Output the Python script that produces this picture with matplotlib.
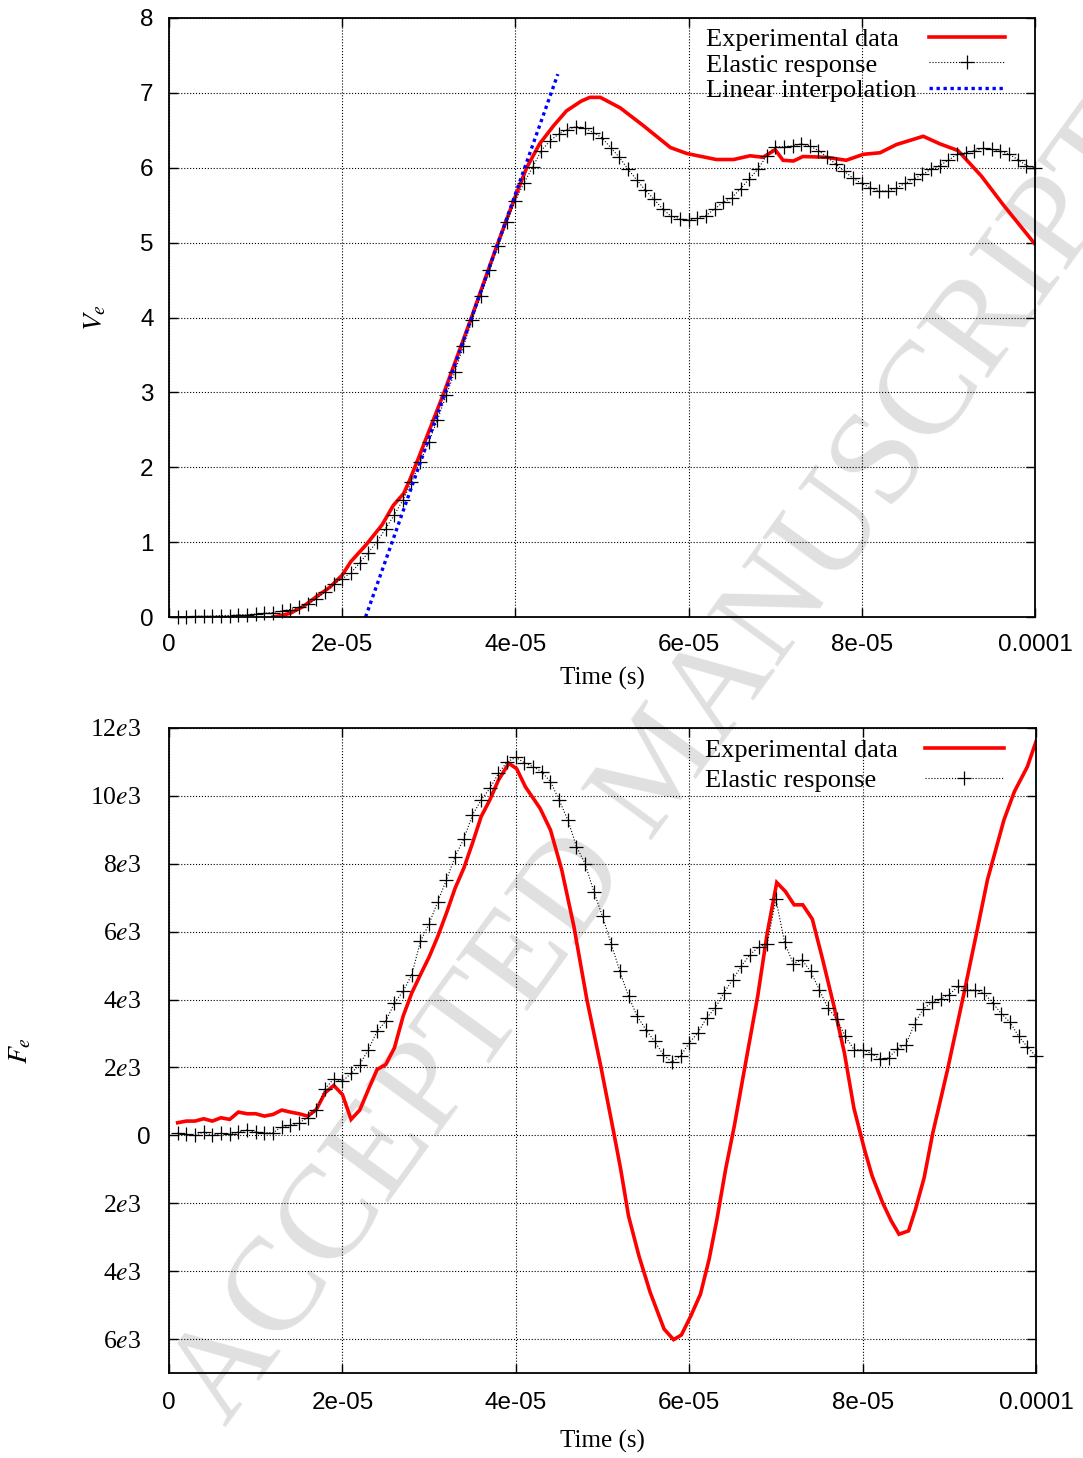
import matplotlib
matplotlib.use('Agg')
import matplotlib.pyplot as plt
from matplotlib.lines import Line2D

plt.rcParams['font.family'] = ['Liberation Sans', 'DejaVu Sans']
plt.rcParams['mathtext.fontset'] = 'stix'

# ---------------- data ----------------
# time samples of the elastic response (microseconds)
t_elastic_us = list(range(1, 101))

V_elastic = [0.00, 0.00, 0.01, 0.01, 0.01, 0.02, 0.02, 0.03, 0.03, 0.04,
             0.05, 0.06, 0.08, 0.10, 0.13, 0.17, 0.24, 0.34, 0.44, 0.51,
             0.59, 0.72, 0.86, 1.00, 1.18, 1.36, 1.56, 1.80, 2.07, 2.34,
             2.63, 2.96, 3.27, 3.62, 3.96, 4.29, 4.63, 4.96, 5.27, 5.56,
             5.80, 6.01, 6.23, 6.36, 6.45, 6.51, 6.55, 6.53, 6.47, 6.40,
             6.27, 6.14, 5.98, 5.84, 5.70, 5.58, 5.45, 5.35, 5.32, 5.30,
             5.33, 5.36, 5.45, 5.54, 5.60, 5.72, 5.85, 5.98, 6.16, 6.28,
             6.28, 6.29, 6.32, 6.29, 6.23, 6.14, 6.05, 5.95, 5.86, 5.79,
             5.73, 5.69, 5.69, 5.73, 5.79, 5.85, 5.91, 5.98, 6.03, 6.10,
             6.18, 6.20, 6.23, 6.26, 6.25, 6.22, 6.18, 6.11, 6.03, 6.00]

t_exp_v_us = [12, 13, 14, 15.5, 17, 18.6, 20, 21, 22.8, 24.6, 25.9, 27.1, 27.8,
              28.8, 31.7, 34.8, 37.8, 39.8, 41.3, 42.8, 44.4, 45.9, 47.6, 48.6,
              49.8, 52.1, 54.8, 57.9, 59.8, 63.2, 65.2, 67.1, 68.6, 70.0, 70.9,
              72.1, 73.2, 75.9, 78.2, 80.2, 82.1, 84.0, 87.1, 89.0, 91.1, 93.8,
              96.3, 100]
V_exp = [0.0, 0.02, 0.05, 0.14, 0.27, 0.40, 0.56, 0.74, 0.97, 1.23, 1.49, 1.65, 1.83,
         2.12, 2.98, 3.96, 4.94, 5.56, 6.00, 6.32, 6.56, 6.76, 6.89, 6.94,
         6.94, 6.80, 6.56, 6.27, 6.19, 6.11, 6.11, 6.16, 6.14, 6.24, 6.10,
         6.09, 6.15, 6.14, 6.10, 6.18, 6.20, 6.31, 6.42, 6.32, 6.23, 5.89,
         5.51, 4.98]

t_lin_us = [22.7, 44.9]
V_lin = [0.0, 7.25]

F_elastic = [78, 29, 0, 98, 0, 59, 29, 98, 157, 98,
             78, 78, 255, 294, 372, 519, 745, 1372, 1666, 1597,
             1823, 2087, 2528, 3067, 3361, 3900, 4243, 4733, 5713, 6233,
             6889, 7526, 8212, 8732, 9437, 9878, 10221, 10662, 11005, 11133,
             10976, 10858, 10711, 10417, 9878, 9290, 8506, 7997, 7183, 6448,
             5645, 4831, 4096, 3508, 3116, 2773, 2381, 2156, 2332, 2724,
             3018, 3459, 3753, 4194, 4586, 4978, 5321, 5547, 5645, 6958,
             5684, 5057, 5174, 4831, 4292, 3753, 3430, 2920, 2528, 2528,
             2411, 2254, 2283, 2548, 2675, 3293, 3724, 3920, 4018, 4145,
             4390, 4292, 4273, 4194, 3900, 3587, 3332, 2920, 2607, 2332]

t_exp_f_us = [1, 2, 3, 4, 5, 6, 7, 8, 9, 10, 11, 12, 13, 14, 15, 16, 17, 18, 19, 20,
              21, 22, 23, 24, 25, 26, 27, 28, 29, 30, 31, 32, 33, 34, 35, 36, 37, 38,
              39.2, 40.1, 41.1, 42.8, 44.0, 45.3, 46.7, 48.2, 49.8, 51.3, 52.1, 53.0,
              54.2, 55.5, 57.1, 58.2, 59.1, 60.2, 61.3, 62.3, 63.2, 64.2, 65.2, 66.3,
              67.9, 69.0, 70.1, 71.1, 72.1, 73.1, 74.2, 75.4, 76.7, 77.9, 79.0, 80.2,
              81.1, 82.3, 83.3, 84.2, 85.3, 86.1, 87.1, 88.1, 89.0, 89.8, 91.7, 93.3,
              94.4, 96.3, 97.5, 99.0, 100]
F_exp = [372, 421, 421, 490, 421, 519, 470, 686, 637, 637, 568, 617, 745, 686, 637, 568,
         764, 1254, 1470, 1205, 470, 745, 1352, 1940, 2087, 2577, 3508, 4194, 4733, 5253,
         5860, 6546, 7281, 7869, 8604, 9388, 9878, 10466,
         10960, 10800, 10270, 9633, 8996, 7820, 6154, 3998, 2038, 78, -1000, -2372,
         -3548, -4626, -5704, -6017, -5880, -5312, -4675, -3646, -2470, -1000, 274, 1842,
         4096, 5958, 7448, 7183, 6791, 6791, 6370, 5174, 3802, 2430, 800, -400,
         -1196, -1980, -2519, -2911, -2813, -2176, -1245, 78, 1058, 1940, 4194, 6154,
         7526, 9290, 10123, 10858, 11600]

x_ticks = [0, 2e-5, 4e-5, 6e-5, 8e-5, 1e-4]
x_ticklabels = ['0', '2e-05', '4e-05', '6e-05', '8e-05', '0.0001']
v_ticks = [0, 1, 2, 3, 4, 5, 6, 7, 8]
f_ticks = [-6000, -4000, -2000, 0, 2000, 4000, 6000, 8000, 10000, 12000]
f_ticklabels = ['6$e$3', '4$e$3', '2$e$3', '0', '2$e$3', '4$e$3', '6$e$3',
                '8$e$3', '10$e$3', '12$e$3']

labels_top = ['Experimental data', 'Elastic response', 'Linear interpolation']
labels_bot = ['Experimental data', 'Elastic response']

# ---------------- styles ----------------
SERIF = 'Liberation Serif'
RED = '#ff0000'
BLUE = '#0000ff'
exp_style = dict(color=RED, lw=2.6, solid_joinstyle='miter')
ela_style = dict(color='black', ls=':', lw=0.8, marker='+', ms=10, mew=0.9, clip_on=False)
lin_style = dict(color=BLUE, ls=(0, (1, 1.1)), lw=2.4)

us = 1e-6
W, H = 1083, 1458
fig = plt.figure(figsize=(W / 100, H / 100), dpi=100)
fig.patch.set_facecolor('white')

ax1 = fig.add_axes([169 / W, (H - 617) / H, 866 / W, 599 / H])
ax2 = fig.add_axes([169 / W, (H - 1373) / H, 867 / W, 645 / H])

# watermark
fig.text(664 / W, 1 - 768 / H, 'ACCEPTED MANUSCRIPT', rotation=54, rotation_mode='anchor',
         ha='center', va='center', fontsize=96, family=SERIF, color='#e0e0e0', zorder=-1)


def style_axes(ax):
    ax.set_facecolor('none')
    for s in ax.spines.values():
        s.set_linewidth(1.3)
    ax.tick_params(direction='in', length=6.5, width=1.0, top=True, right=True,
                   labelsize=17.5)
    ax.grid(True, ls=':', color='black', lw=0.8)
    ax.set_axisbelow(True)
    ax.set_xlim(0, 1e-4)
    ax.set_xticks(x_ticks)
    ax.set_xticklabels(x_ticklabels)


def fix_legend(leg, width_px):
    try:
        col = leg._legend_handle_box.get_children()[0]
        col.align = 'left'
        for row in col.get_children():
            row.mode = 'expand'
            row.width = width_px
    except Exception:
        pass


# ---- top panel ----
style_axes(ax1)
ax1.plot([t * us for t in t_exp_v_us], V_exp, **exp_style)
ax1.plot([t * us for t in t_elastic_us], V_elastic, **ela_style)
ax1.plot([t * us for t in t_lin_us], V_lin, **lin_style)
ax1.set_ylim(0, 8)
ax1.set_yticks(v_ticks)
ax1.tick_params(axis='x', pad=12)
ax1.tick_params(axis='y', pad=11)
ax1.set_xlabel('Time (s)', family=SERIF, fontsize=18)
ax1.xaxis.set_label_coords(0.5, -0.083)
ax1.set_ylabel(r'$V_e$', fontsize=20)
ax1.yaxis.set_label_coords(-0.070, 0.5)

h_top = [Line2D([], [], **exp_style), Line2D([], [], **ela_style), Line2D([], [], **lin_style)]
leg1 = ax1.legend(h_top, labels_top, loc='upper right', bbox_to_anchor=(0.9654, 0.984),
                  frameon=False, markerfirst=False, handlelength=2.9, handletextpad=0.5,
                  labelspacing=0.08, borderpad=0, borderaxespad=0,
                  prop={'family': SERIF, 'size': 19})
fix_legend(leg1, 299)

# ---- bottom panel ----
style_axes(ax2)
ax2.plot([t * us for t in t_exp_f_us], F_exp, **exp_style)
ax2.plot([t * us for t in t_elastic_us], F_elastic, **ela_style)
ax2.set_ylim(-7000, 12000)
ax2.set_yticks(f_ticks)
ax2.set_yticklabels(f_ticklabels)
ax2.tick_params(axis='x', pad=14)
ax2.tick_params(axis='y', pad=20)
for tick, lab in zip(ax2.yaxis.get_major_ticks(), f_ticklabels):
    if lab == '0':
        tick.set_pad(13)
        tick.label1.set_fontfamily('Liberation Sans')
    else:
        tick.label1.set_fontfamily(SERIF)
        tick.label1.set_fontsize(18.5)
ax2.set_xlabel('Time (s)', family=SERIF, fontsize=18)
ax2.xaxis.set_label_coords(0.5, -0.088)
ax2.set_ylabel(r'$F_e$', fontsize=20)
ax2.yaxis.set_label_coords(-0.156, 0.5)

h_bot = [Line2D([], [], **exp_style), Line2D([], [], **ela_style)]
leg2 = ax2.legend(h_bot, labels_bot, loc='upper right', bbox_to_anchor=(0.9631, 0.984),
                  frameon=False, markerfirst=False, handlelength=3.0, handletextpad=0.5,
                  labelspacing=0.25, borderpad=0, borderaxespad=0,
                  prop={'family': SERIF, 'size': 19})
fix_legend(leg2, 299)

fig.savefig('out.png', dpi=100, facecolor='white')
